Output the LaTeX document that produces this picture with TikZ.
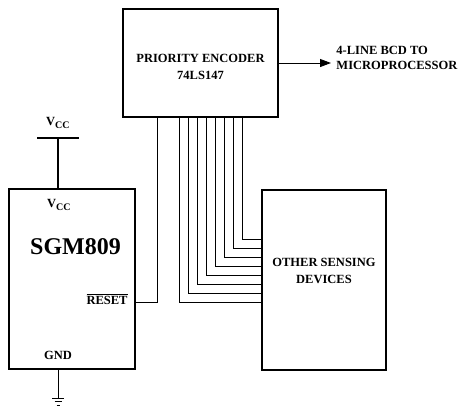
\documentclass[tikz,border=0pt]{standalone}
\usepackage{fontspec}
\setmainfont{Liberation Serif}
\usetikzlibrary{arrows.meta}
\usetikzlibrary{calc}
\newcommand{\barred}[1]{\vbox{\hrule height 0.8pt\kern1.2pt\hbox{#1}}}
\tikzset{chip/.style={draw, line width=2.2pt, inner sep=0pt},
  lbl/.style={font=\bfseries\fontsize{12.5}{17}\selectfont, align=center, inner sep=0pt}}

\begin{document}
\begin{tikzpicture}[x=1pt, y=-1pt, line width=0.9pt]
\useasboundingbox (0,0) rectangle (460,408);
% boxes
\node[chip, minimum width=155pt, minimum height=108pt] (enc) at (200.5,63) {};
\node[chip, minimum width=126pt, minimum height=180pt] (sgm) at (72,279) {};
\node[chip, minimum width=124pt, minimum height=180pt] (oth) at (324,280) {};
% texts
\node[lbl] (enctxt) at (200.5,67) {PRIORITY ENCODER\\74LS147};
\node[lbl] (othtxt) at (324,270.5) {OTHER SENSING\\DEVICES};
\node[lbl, align=left, anchor=west, font=\bfseries\fontsize{12.5}{15}\selectfont] (bcd) at (336,57.5) {4-LINE BCD TO\\MICROPROCESSOR};
\node[lbl, font=\bfseries\fontsize{24}{26}\selectfont] (name) at (75.5,247) {SGM809};
\node[lbl] (vccin) at (59,205) {V\textsubscript{\fontsize{10}{10}\selectfont CC}};
\node[lbl] (vccout) at (58,123) {V\textsubscript{\fontsize{10}{10}\selectfont CC}};
\node[lbl, anchor=east] (rst) at (128,299) {\barred{RESET}};
\node[lbl] (gndtxt) at (58,355) {GND};
% supply and ground
\coordinate (vcc) at (58,138);
\draw[line width=1.8pt] (37,138) -- (79,138);
\draw[line width=1.8pt] (vcc) -- (sgm.north -| vcc);
\coordinate (gnd) at (58,398);
\draw (sgm.south -| gnd) -- (gnd);
\draw (52,398) -- (64,398);
\draw (54.5,401.5) -- (61.5,401.5);
\draw (56.5,405) -- (59.5,405);
% reset line
\coordinate (rstx) at (157,302);
\draw (sgm.east |- rstx) -| (enc.south -| rstx);
% encoder inputs
\foreach \i in {0,...,7} {
  \coordinate (in\i) at ({179+9*\i},{302-9*\i});
  \draw (enc.south -| in\i) |- (oth.west |- in\i);
}
% output
\coordinate (out) at (331,63);
\draw[-{Triangle[length=11pt,width=8pt]}] (enc.east |- out) -- (out);
\end{tikzpicture}
\end{document}
